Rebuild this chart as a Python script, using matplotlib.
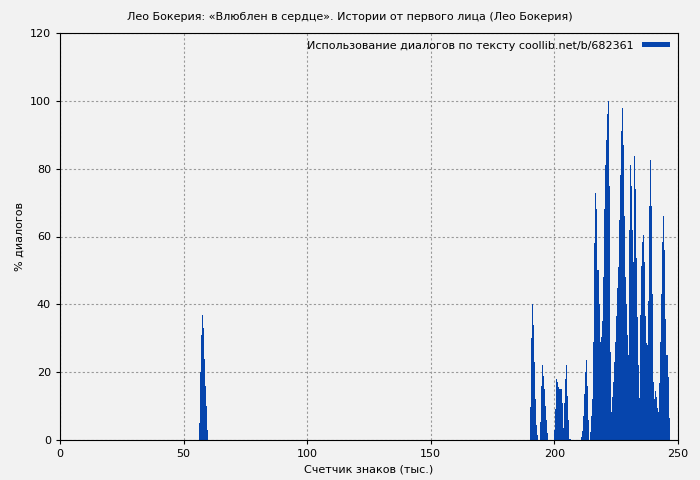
import numpy as np
import matplotlib
matplotlib.use("Agg")
import matplotlib.pyplot as plt

step = 0.4045
seg1_start = 56.2
seg1_vals = [5, 20, 31, 37, 33, 24, 16, 10, 3]
seg2_start = 190.1
seg2_vals = [9.8,30,40,34,23,12,4.4,1.5,0,0,5.4,16,22,19,15,10,6,2,0,0,0,0,0,0,
             3,9,18,17,15.5,15,15,15,11,3.4,11,18,22,13,6,0.3,0.3,
             0,0,0,0,0,0,0,0,0,0,1,2.7,7,13.6,20,23.6,16,6,0,2.5,7,12,
             29,58,72.7,68,50,50,40,29,30.5,35,48,68,81,88.5,96,100,75,26,8.4,12.8,17,23,29,36.6,44.7,51,65,78,91,98,87,66,48,40,31,25,62,81,75,62,52.6,83.6,74,53.6,36.4,22,12.5,37,51.4,58.5,60.5,52.6,36.6,28.5,28,41,69,82.6,69,43,17,12,14.5,12.8,9.3,8.4,16.7,28.8,43,58.5,66,56,35.7,25,25,18.7,6.4]

x1 = seg1_start + step*np.arange(len(seg1_vals))
x2 = seg2_start + step*np.arange(len(seg2_vals))
x = np.concatenate([x1, x2]); y = np.array(seg1_vals + seg2_vals)

fig = plt.figure(figsize=(7, 4.8), dpi=100, facecolor='#f2f2f2')
ax = fig.add_axes([60/700, 40/480, 618/700, 407/480])
ax.set_facecolor('#f2f2f2')
ax.bar(x, y, width=step, align='edge', color='#0645ad', linewidth=0,
       label='Использование диалогов по тексту coollib.net/b/682361')
ax.set_xlim(0, 250); ax.set_ylim(0, 120)
ax.set_xticks(range(0, 251, 50)); ax.set_yticks(range(0, 121, 20))
ax.grid(True, color='#999999', linestyle=(0, (2, 2)), linewidth=0.8)
ax.set_axisbelow(True)
ax.tick_params(labelsize=8, direction='out', length=3)
ax.set_xlabel('Счетчик знаков (тыс.)', fontsize=8)
ax.set_ylabel('% диалогов', fontsize=8)
fig.suptitle('Лео Бокерия: «Влюблен в сердце». Истории от первого лица (Лео Бокерия)', fontsize=8, y=0.975)
leg = ax.legend(loc='upper right', frameon=False, fontsize=8, handlelength=2.5, handleheight=0.3, markerfirst=False, borderaxespad=0.3)
fig.savefig('out.png', dpi=100, facecolor=fig.get_facecolor())
